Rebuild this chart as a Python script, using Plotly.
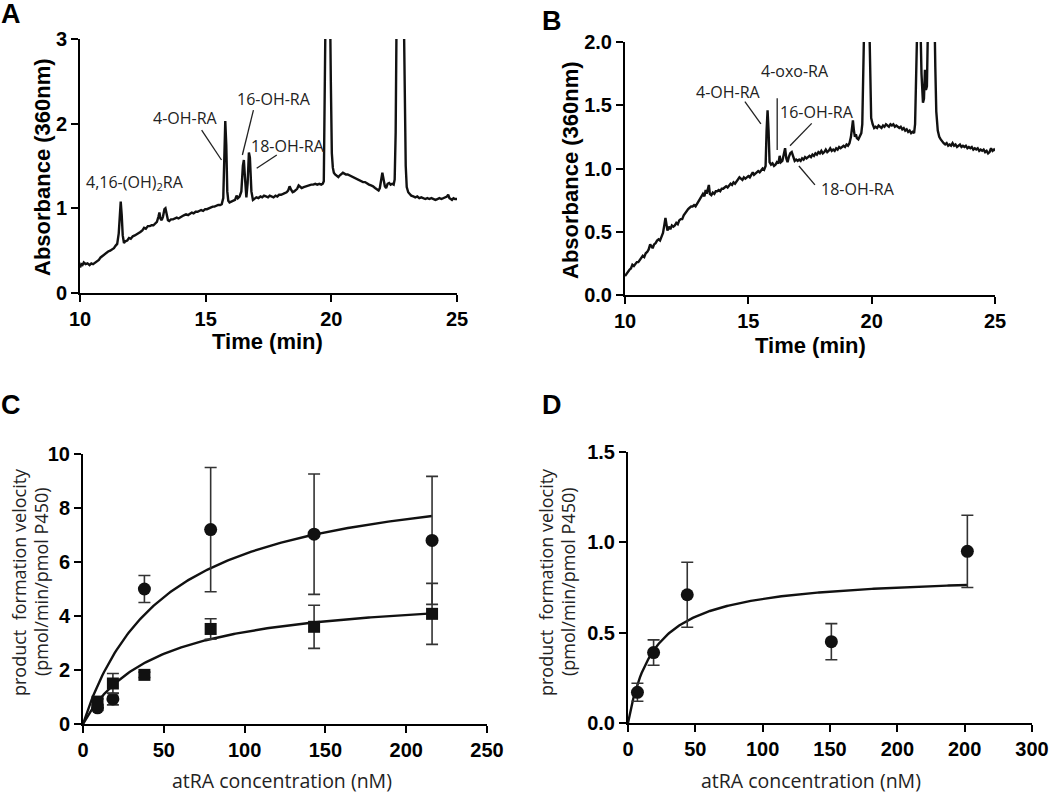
import numpy as np
import plotly.graph_objects as go

# ---------------- Panel A chromatogram ----------------
timeA = [10.00,10.05,10.10,10.15,10.22,10.30,10.38,10.45,10.52,10.60,10.68,10.75,10.82,10.90,10.97,11.05,11.12,11.20,11.28,11.35,11.42,11.48,11.54,11.58,11.62,11.66,11.70,11.75,11.80,11.88,11.95,12.02,12.10,12.18,12.25,12.32,12.40,12.48,12.55,12.62,12.70,12.78,12.85,12.92,13.00,13.06,13.12,13.16,13.20,13.25,13.30,13.36,13.40,13.45,13.50,13.55,13.62,13.70,13.78,13.85,13.92,14.00,14.08,14.15,14.22,14.30,14.38,14.45,14.52,14.60,14.68,14.75,14.82,14.90,14.98,15.05,15.12,15.20,15.28,15.35,15.42,15.50,15.58,15.64,15.70,15.74,15.78,15.82,15.86,15.90,15.95,16.02,16.10,16.17,16.23,16.28,16.35,16.42,16.48,16.52,16.56,16.62,16.67,16.72,16.76,16.82,16.88,16.95,17.02,17.10,17.18,17.25,17.32,17.40,17.48,17.55,17.62,17.70,17.78,17.85,17.92,18.00,18.08,18.15,18.22,18.28,18.34,18.40,18.46,18.52,18.58,18.64,18.70,18.76,18.82,18.90,18.98,19.05,19.12,19.20,19.28,19.36,19.44,19.52,19.60,19.66,19.70,19.74,19.78,19.86,19.94,19.98,20.02,20.06,20.10,20.15,20.22,20.28,20.34,20.40,20.46,20.52,20.58,20.65,20.72,20.80,20.88,20.95,21.02,21.10,21.18,21.26,21.34,21.42,21.50,21.58,21.66,21.74,21.82,21.88,21.93,21.98,22.03,22.08,22.13,22.18,22.24,22.30,22.36,22.42,22.48,22.52,22.56,22.60,22.72,22.88,22.92,22.96,23.00,23.06,23.12,23.18,23.26,23.34,23.42,23.50,23.58,23.66,23.74,23.82,23.90,23.98,24.06,24.14,24.22,24.30,24.38,24.46,24.54,24.60,24.65,24.70,24.75,24.80,24.86,24.92,25.00]
absA = [0.30,0.34,0.33,0.36,0.34,0.35,0.33,0.35,0.34,0.36,0.37,0.39,0.42,0.44,0.46,0.47,0.49,0.50,0.52,0.53,0.56,0.58,0.70,0.95,1.08,0.92,0.68,0.59,0.61,0.62,0.65,0.64,0.67,0.68,0.69,0.70,0.72,0.74,0.77,0.76,0.79,0.79,0.80,0.80,0.82,0.84,0.90,0.95,0.88,0.86,0.90,0.99,1.00,0.92,0.86,0.85,0.87,0.87,0.88,0.89,0.88,0.90,0.91,0.92,0.93,0.92,0.94,0.95,0.94,0.96,0.96,0.97,0.98,0.97,0.99,0.99,1.00,1.01,1.02,1.02,1.03,1.04,1.04,1.05,1.12,1.60,2.03,1.75,1.20,1.09,1.07,1.08,1.09,1.10,1.15,1.12,1.14,1.20,1.50,1.57,1.38,1.13,1.30,1.66,1.60,1.20,1.10,1.12,1.13,1.12,1.14,1.13,1.15,1.14,1.13,1.15,1.14,1.13,1.15,1.14,1.16,1.16,1.17,1.18,1.19,1.21,1.26,1.22,1.19,1.20,1.21,1.23,1.27,1.26,1.24,1.25,1.26,1.27,1.27,1.28,1.28,1.29,1.28,1.29,1.28,1.29,1.32,2.20,3.60,4.20,3.60,2.50,1.65,1.48,1.42,1.40,1.38,1.37,1.39,1.41,1.42,1.41,1.40,1.40,1.39,1.38,1.37,1.36,1.35,1.34,1.33,1.31,1.31,1.29,1.28,1.27,1.26,1.24,1.22,1.21,1.24,1.34,1.42,1.34,1.26,1.24,1.29,1.30,1.28,1.29,1.28,1.34,1.90,3.40,4.00,3.40,2.40,1.50,1.25,1.19,1.17,1.15,1.14,1.13,1.14,1.12,1.13,1.12,1.11,1.12,1.11,1.12,1.11,1.10,1.11,1.12,1.11,1.12,1.13,1.14,1.16,1.12,1.11,1.10,1.12,1.11,1.11]

# ---------------- Panel B chromatogram ----------------
timeB = [10.00,10.06,10.12,10.18,10.24,10.30,10.36,10.42,10.48,10.54,10.60,10.66,10.72,10.78,10.84,10.90,10.96,11.02,11.07,11.12,11.18,11.24,11.30,11.36,11.42,11.48,11.54,11.60,11.64,11.68,11.72,11.78,11.84,11.90,11.96,12.02,12.08,12.14,12.20,12.26,12.32,12.38,12.44,12.50,12.56,12.62,12.68,12.74,12.80,12.86,12.92,12.98,13.04,13.10,13.16,13.22,13.27,13.31,13.36,13.40,13.44,13.50,13.56,13.62,13.68,13.74,13.80,13.86,13.92,13.98,14.04,14.10,14.16,14.22,14.28,14.34,14.40,14.46,14.52,14.58,14.64,14.70,14.76,14.82,14.88,14.94,15.00,15.06,15.12,15.18,15.23,15.28,15.34,15.40,15.46,15.52,15.58,15.64,15.70,15.74,15.78,15.82,15.86,15.92,15.98,16.04,16.10,16.16,16.22,16.27,16.32,16.38,16.44,16.49,16.54,16.59,16.64,16.70,16.76,16.82,16.88,16.94,17.00,17.06,17.12,17.18,17.24,17.30,17.36,17.42,17.48,17.54,17.60,17.66,17.72,17.78,17.84,17.90,17.96,18.02,18.08,18.14,18.20,18.26,18.32,18.38,18.44,18.50,18.56,18.62,18.68,18.74,18.80,18.86,18.92,18.98,19.04,19.10,19.16,19.20,19.24,19.28,19.32,19.36,19.40,19.46,19.52,19.58,19.62,19.65,19.68,19.76,19.86,19.90,19.94,19.98,20.04,20.10,20.16,20.22,20.28,20.34,20.40,20.46,20.52,20.58,20.64,20.70,20.76,20.82,20.88,20.94,21.00,21.06,21.12,21.18,21.24,21.30,21.36,21.42,21.48,21.54,21.60,21.66,21.72,21.76,21.80,21.84,21.90,21.96,22.02,22.08,22.12,22.16,22.20,22.24,22.28,22.34,22.48,22.54,22.58,22.62,22.68,22.74,22.80,22.86,22.92,22.98,23.04,23.10,23.16,23.22,23.28,23.34,23.40,23.46,23.52,23.58,23.64,23.70,23.76,23.82,23.88,23.94,24.00,24.06,24.12,24.18,24.24,24.30,24.36,24.42,24.48,24.54,24.60,24.66,24.72,24.78,24.84,24.90,24.96,25.00]
absB = [0.15,0.17,0.18,0.20,0.21,0.24,0.23,0.25,0.26,0.26,0.28,0.29,0.31,0.30,0.33,0.34,0.36,0.40,0.38,0.37,0.40,0.41,0.43,0.44,0.43,0.46,0.49,0.56,0.61,0.56,0.51,0.54,0.52,0.55,0.54,0.55,0.57,0.56,0.59,0.60,0.60,0.63,0.65,0.67,0.68,0.69,0.70,0.70,0.71,0.70,0.72,0.73,0.75,0.77,0.80,0.78,0.83,0.80,0.85,0.87,0.80,0.79,0.81,0.80,0.82,0.82,0.83,0.82,0.84,0.84,0.85,0.86,0.85,0.87,0.88,0.87,0.89,0.88,0.90,0.91,0.93,0.92,0.91,0.93,0.92,0.93,0.94,0.93,0.95,0.97,0.95,0.96,0.97,0.98,0.97,0.99,1.00,0.99,1.02,1.30,1.46,1.30,1.05,1.03,1.04,1.02,1.03,1.05,1.04,1.10,1.05,1.06,1.12,1.16,1.08,1.05,1.09,1.12,1.13,1.09,1.06,1.07,1.06,1.07,1.06,1.08,1.07,1.09,1.08,1.09,1.10,1.09,1.11,1.10,1.12,1.11,1.13,1.12,1.14,1.12,1.13,1.15,1.13,1.14,1.16,1.14,1.15,1.14,1.16,1.15,1.17,1.16,1.17,1.18,1.17,1.19,1.18,1.20,1.25,1.34,1.38,1.30,1.25,1.27,1.24,1.23,1.25,1.28,1.35,1.80,2.40,2.80,2.60,2.10,1.60,1.40,1.35,1.32,1.33,1.32,1.34,1.33,1.32,1.34,1.33,1.35,1.34,1.33,1.35,1.34,1.35,1.33,1.34,1.33,1.32,1.33,1.31,1.32,1.30,1.31,1.29,1.30,1.28,1.29,1.28,1.35,1.80,2.40,2.60,2.30,1.75,1.52,1.55,1.78,1.62,1.65,2.40,2.80,2.70,2.30,1.80,1.45,1.30,1.25,1.23,1.21,1.20,1.19,1.20,1.18,1.19,1.18,1.20,1.18,1.19,1.17,1.18,1.19,1.17,1.18,1.17,1.18,1.16,1.17,1.16,1.17,1.15,1.16,1.15,1.16,1.14,1.15,1.14,1.15,1.13,1.14,1.12,1.13,1.16,1.14,1.15,1.14]

# ---------------- Panel C kinetics ----------------
concC = [9, 18.5, 38, 79, 143, 216]
circC = [0.60, 0.93, 5.00, 7.20, 7.03, 6.80]
circC_err = [0.10, 0.22, 0.50, 2.30, 2.23, 2.37]
sqC = [0.83, 1.50, 1.82, 3.52, 3.60, 4.08]
sqC_err = [0.10, 0.37, 0.10, 0.38, 0.80, 1.13]
fitC_circ = {"Vmax": 9.54, "Km": 51.5}
fitC_sq = {"Vmax": 4.96, "Km": 45.5}

# ---------------- Panel D kinetics ----------------
concD = [7, 19, 44, 151, 252]
velD = [0.17, 0.39, 0.71, 0.45, 0.95]
velD_err = [0.05, 0.07, 0.18, 0.10, 0.20]
fitD = {"Vmax": 0.825, "Km": 20.1}
ticksD_vals = [0, 50, 100, 150, 200, 250, 300]
ticksD_text = ["0", "50", "100", "150", "200", "200", "300"]


def mm(params, smax):
    s = np.linspace(0, smax, 200)
    return s, params["Vmax"] * s / (params["Km"] + s)


W, H = 1050, 796
def px(x): return x / W
def py(y): return 1 - y / H

BOLD = dict(family="Liberation Sans, Arial", size=20, color="black", weight="bold")
TITLE = dict(family="Liberation Sans, Arial", size=22, color="black", weight="bold")
REGY = dict(family="Open Sans", size=18, color="#222")
REGX = dict(family="Open Sans", size=19.5, color="#222")
LAB = dict(family="Open Sans", size=16, color="#222")

fig = go.Figure()
fig.add_trace(go.Scatter(x=timeA, y=absA, mode="lines", line=dict(color="#111", width=2.4),
                         xaxis="x", yaxis="y", showlegend=False))
fig.add_trace(go.Scatter(x=timeB, y=absB, mode="lines", line=dict(color="#111", width=2.4),
                         xaxis="x2", yaxis="y2", showlegend=False))

sC1, vC1 = mm(fitC_circ, 216)
sC2, vC2 = mm(fitC_sq, 216)
fig.add_trace(go.Scatter(x=sC1, y=vC1, mode="lines", line=dict(color="#111", width=2.4),
                         xaxis="x3", yaxis="y3", showlegend=False))
fig.add_trace(go.Scatter(x=sC2, y=vC2, mode="lines", line=dict(color="#111", width=2.4),
                         xaxis="x3", yaxis="y3", showlegend=False))
fig.add_trace(go.Scatter(x=concC, y=circC, mode="markers",
                         marker=dict(symbol="circle", size=13, color="#111"),
                         error_y=dict(type="data", array=circC_err, color="#333", thickness=1.6, width=6),
                         xaxis="x3", yaxis="y3", showlegend=False, cliponaxis=False))
fig.add_trace(go.Scatter(x=concC, y=sqC, mode="markers",
                         marker=dict(symbol="square", size=12, color="#111"),
                         error_y=dict(type="data", array=sqC_err, color="#333", thickness=1.6, width=6),
                         xaxis="x3", yaxis="y3", showlegend=False, cliponaxis=False))

sD, vD = mm(fitD, 252)
fig.add_trace(go.Scatter(x=sD, y=vD, mode="lines", line=dict(color="#111", width=2.4),
                         xaxis="x4", yaxis="y4", showlegend=False))
fig.add_trace(go.Scatter(x=concD, y=velD, mode="markers",
                         marker=dict(symbol="circle", size=13, color="#111"),
                         error_y=dict(type="data", array=velD_err, color="#333", thickness=1.6, width=6),
                         xaxis="x4", yaxis="y4", showlegend=False, cliponaxis=False))

ax = dict(showline=True, linecolor="black", linewidth=2, ticks="outside", ticklen=7,
          tickwidth=2, tickcolor="black", showgrid=False, zeroline=False, tickfont=BOLD,
          fixedrange=True, automargin=False)

fig.update_layout(
    template="none",
    width=W, height=H, margin=dict(l=0, r=0, t=0, b=0, pad=0), autosize=False,
    paper_bgcolor="white", plot_bgcolor="white",
    xaxis=dict(ax, domain=[px(80), px(457)], range=[10, 25], tickvals=[10, 15, 20, 25], anchor="y"),
    yaxis=dict(ax, domain=[py(293), py(39)], range=[0, 3], tickvals=[0, 1, 2, 3], anchor="x"),
    xaxis2=dict(ax, domain=[px(625), px(995)], range=[10, 25], tickvals=[10, 15, 20, 25], anchor="y2"),
    yaxis2=dict(ax, domain=[py(295), py(42)], range=[0, 2], tickvals=[0, 0.5, 1, 1.5, 2],
                tickformat=".1f", anchor="x2"),
    xaxis3=dict(ax, domain=[px(83), px(487)], range=[0, 250], tickvals=[0, 50, 100, 150, 200, 250], anchor="y3"),
    yaxis3=dict(ax, domain=[py(724), py(454)], range=[0, 10], tickvals=[0, 2, 4, 6, 8, 10], anchor="x3"),
    xaxis4=dict(ax, domain=[px(628), px(1032)], range=[0, 300], tickvals=ticksD_vals,
                ticktext=ticksD_text, anchor="y4"),
    yaxis4=dict(ax, domain=[py(723), py(452)], range=[0, 1.5], tickvals=[0, 0.5, 1, 1.5],
                tickformat=".1f", anchor="x4"),
)

ann = []
for letter, x, y in [("A", 11, 14), ("B", 552, 21), ("C", 11, 405), ("D", 552, 405)]:
    ann.append(dict(text=letter, x=px(x), y=py(y), yanchor="middle",
                    font=dict(family="Liberation Sans, Arial", size=27, color="black", weight="bold")))
ann += [
    dict(text="Absorbance (360nm)", x=px(42), y=py(167), textangle=-90, font=TITLE, yanchor="middle"),
    dict(text="Time (min)", x=px(267), y=py(342), font=TITLE, yanchor="middle"),
    dict(text="Absorbance (360nm)", x=px(571), y=py(170), textangle=-90, font=TITLE, yanchor="middle"),
    dict(text="Time (min)", x=px(810), y=py(345), font=TITLE, yanchor="middle"),
    dict(text="product  formation velocity", x=px(19), y=py(582), textangle=-90, font=REGY, yanchor="middle"),
    dict(text="(pmol/min/pmol P450)", x=px(41), y=py(582), textangle=-90, font=REGY, yanchor="middle"),
    dict(text="atRA concentration (nM)", x=px(282), y=0, font=REGX, yanchor="bottom"),
    dict(text="product  formation velocity", x=px(546), y=py(582), textangle=-90, font=REGY, yanchor="middle"),
    dict(text="(pmol/min/pmol P450)", x=px(568), y=py(582), textangle=-90, font=REGY, yanchor="middle"),
    dict(text="atRA concentration (nM)", x=px(811), y=0, font=REGX, yanchor="bottom"),
]
for a in ann:
    a.update(xref="paper", yref="paper", showarrow=False, xanchor="center")

peak_labels = [
    ("4,16-(OH)<sub>2</sub>RA", 12.19, 1.30, "x", "y"),
    ("4-OH-RA", 14.18, 2.07, "x", "y"),
    ("16-OH-RA", 17.72, 2.29, "x", "y"),
    ("18-OH-RA", 18.26, 1.74, "x", "y"),
    ("4-oxo-RA", 16.89, 1.771, "x2", "y2"),
    ("4-OH-RA", 14.20, 1.607, "x2", "y2"),
    ("16-OH-RA", 17.80, 1.449, "x2", "y2"),
    ("18-OH-RA", 19.44, 0.838, "x2", "y2"),
]
for t, x, y, xr, yr in peak_labels:
    ann.append(dict(text=t, x=x, y=y, xref=xr, yref=yr, showarrow=False, font=LAB,
                    xanchor="center", yanchor="middle"))
fig.update_layout(annotations=ann)

leaders = [
    (14.84, 1.925, 15.63, 1.571, "x", "y"),
    (16.90, 2.161, 16.46, 1.630, "x", "y"),
    (17.83, 1.630, 17.03, 1.473, "x", "y"),
    (16.17, 1.555, 16.17, 1.146, "x2", "y2"),
    (14.86, 1.528, 15.51, 1.352, "x2", "y2"),
    (17.57, 1.357, 16.69, 1.180, "x2", "y2"),
    (17.70, 0.870, 17.05, 1.020, "x2", "y2"),
]
for x0, y0, x1, y1, xr, yr in leaders:
    fig.add_shape(type="line", x0=x0, y0=y0, x1=x1, y1=y1, xref=xr, yref=yr,
                  line=dict(color="#222", width=1.3))

fig.write_html("out.html", config={"displayModeBar": False},
               post_script="document.body.style.margin='0';document.body.style.overflow='hidden';")
